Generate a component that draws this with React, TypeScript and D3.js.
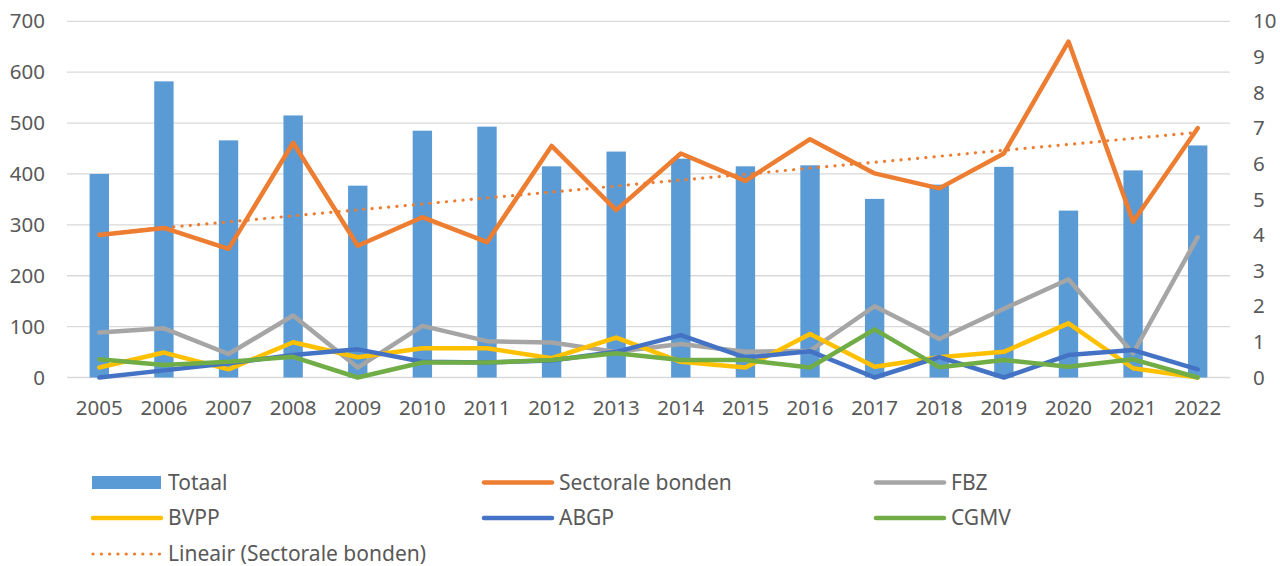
import { useMemo } from "react";
import * as d3 from "d3";

const WIDTH = 1280;
const HEIGHT = 566;
const PLOT = { left: 67, right: 1230, top: 21.3, bottom: 377.5 };
const FONT = "'Noto Sans', 'Open Sans', sans-serif";
const TEXT_COLOR = "#595959";
const AXIS_FONT = 20.5;
const LEGEND_FONT = 21;

const years = [
  "2005", "2006", "2007", "2008", "2009", "2010", "2011", "2012", "2013",
  "2014", "2015", "2016", "2017", "2018", "2019", "2020", "2021", "2022",
];

// left axis
const totaal = [400, 582, 466, 515, 377, 485, 493, 415, 444, 430, 415, 417, 351, 379, 414, 328, 407, 456];

// right axis
const sectoraleBonden = [4.0, 4.2, 3.61, 6.59, 3.7, 4.5, 3.8, 6.5, 4.7, 6.29, 5.52, 6.69, 5.73, 5.31, 6.29, 9.43, 4.37, 7.0];
const fbz = [1.26, 1.38, 0.66, 1.74, 0.28, 1.45, 1.02, 0.98, 0.72, 0.94, 0.72, 0.75, 2.0, 1.08, 1.93, 2.76, 0.68, 3.94];
const bvpp = [0.28, 0.7, 0.23, 0.99, 0.57, 0.82, 0.82, 0.54, 1.12, 0.44, 0.28, 1.22, 0.3, 0.57, 0.72, 1.52, 0.26, 0.0];
const abgp = [0.0, 0.2, 0.4, 0.63, 0.79, 0.44, 0.42, 0.48, 0.72, 1.19, 0.56, 0.74, 0.0, 0.57, 0.0, 0.63, 0.77, 0.23];
const cgmv = [0.51, 0.35, 0.44, 0.58, 0.0, 0.42, 0.42, 0.49, 0.68, 0.49, 0.49, 0.28, 1.35, 0.29, 0.49, 0.3, 0.51, 0.0];

const leftTicks = [0, 100, 200, 300, 400, 500, 600, 700];
const rightTicks = [0, 1, 2, 3, 4, 5, 6, 7, 8, 9, 10];

const lineSeries = [
  { name: "Sectorale bonden", values: sectoraleBonden, color: "#ED7D31" },
  { name: "FBZ", values: fbz, color: "#A5A5A5" },
  { name: "BVPP", values: bvpp, color: "#FFC000" },
  { name: "ABGP", values: abgp, color: "#4472C4" },
  { name: "CGMV", values: cgmv, color: "#70AD47" },
];

export default function App() {
  const xScale = useMemo(
    () => d3.scaleBand<string>().domain(years).range([PLOT.left, PLOT.right]).padding(0),
    []
  );
  const yLeft = useMemo(
    () => d3.scaleLinear().domain([0, 700]).range([PLOT.bottom, PLOT.top]),
    []
  );
  const yRight = useMemo(
    () => d3.scaleLinear().domain([0, 10]).range([PLOT.bottom, PLOT.top]),
    []
  );

  const cx = (y: string) => xScale(y)! + xScale.bandwidth() / 2;
  const barWidth = xScale.bandwidth() * 0.3;

  const lineGen = d3
    .line<number>()
    .x((_, i) => cx(years[i]))
    .y((d) => yRight(d));

  // linear trendline (least squares) of Sectorale bonden
  const trend = useMemo(() => {
    const n = sectoraleBonden.length;
    const xs = d3.range(n);
    const mx = d3.mean(xs)!;
    const my = d3.mean(sectoraleBonden)!;
    const slope =
      d3.sum(xs, (x, i) => (x - mx) * (sectoraleBonden[i] - my)) /
      d3.sum(xs, (x) => (x - mx) ** 2);
    const icpt = my - slope * mx;
    return xs.map((x) => icpt + slope * x);
  }, []);

  const legendItems = [
    { name: "Totaal", kind: "bar", color: "#5B9BD5" },
    ...lineSeries.map((s) => ({ name: s.name, kind: "line", color: s.color })),
    { name: "Lineair (Sectorale bonden)", kind: "dot", color: "#ED7D31" },
  ];
  const legendCols = [92, 483, 875];
  const legendRows = [482.5, 518, 554];

  return (
    <div style={{ position: "absolute", left: 0, top: 0 }}>
      <svg width={WIDTH} height={HEIGHT} style={{ display: "block", background: "#fff" }}>
        {/* gridlines */}
        {leftTicks.map((t) => (
          <line
            key={t}
            x1={PLOT.left}
            x2={PLOT.right}
            y1={yLeft(t)}
            y2={yLeft(t)}
            stroke="#D9D9D9"
            strokeWidth={1.3}
          />
        ))}

        {/* left axis labels */}
        {leftTicks.map((t) => (
          <text
            key={t}
            x={45}
            y={yLeft(t)}
            dy="0.35em"
            textAnchor="end"
            fontFamily={FONT}
            fontSize={AXIS_FONT}
            fill={TEXT_COLOR}
          >
            {t}
          </text>
        ))}

        {/* right axis labels */}
        {rightTicks.map((t) => (
          <text
            key={t}
            x={1253}
            y={yRight(t)}
            dy="0.35em"
            textAnchor="start"
            fontFamily={FONT}
            fontSize={AXIS_FONT}
            fill={TEXT_COLOR}
          >
            {t}
          </text>
        ))}

        {/* x labels */}
        {years.map((y) => (
          <text
            key={y}
            x={cx(y)}
            y={415}
            textAnchor="middle"
            fontFamily={FONT}
            fontSize={AXIS_FONT}
            fill={TEXT_COLOR}
          >
            {y}
          </text>
        ))}

        {/* bars */}
        {totaal.map((v, i) => (
          <rect
            key={years[i]}
            x={cx(years[i]) - barWidth / 2}
            width={barWidth}
            y={yLeft(v)}
            height={yLeft(0) - yLeft(v)}
            fill="#5B9BD5"
          />
        ))}

        {/* lines */}
        {lineSeries.map((s) => (
          <path
            key={s.name}
            d={lineGen(s.values)!}
            fill="none"
            stroke={s.color}
            strokeWidth={4.5}
            strokeLinejoin="round"
            strokeLinecap="round"
          />
        ))}

        {/* trendline */}
        <path
          d={lineGen(trend)!}
          fill="none"
          stroke="#ED7D31"
          strokeWidth={3.2}
          strokeLinecap="round"
          strokeDasharray="0.1 8.2"
        />

        {/* legend */}
        {legendItems.map((item, i) => {
          const x = legendCols[i % 3];
          const y = legendRows[Math.floor(i / 3)];
          return (
            <g key={item.name}>
              {item.kind === "bar" && (
                <rect x={x} y={y - 6.5} width={69} height={13} fill={item.color} />
              )}
              {item.kind === "line" && (
                <line
                  x1={x + 1}
                  x2={x + 69}
                  y1={y}
                  y2={y}
                  stroke={item.color}
                  strokeWidth={4.5}
                  strokeLinecap="round"
                />
              )}
              {item.kind === "dot" && (
                <line
                  x1={x + 1}
                  x2={x + 70}
                  y1={y}
                  y2={y}
                  stroke={item.color}
                  strokeWidth={3.2}
                  strokeLinecap="round"
                  strokeDasharray="0.1 8.2"
                />
              )}
              <text
                x={x + 76}
                y={y}
                dy="0.35em"
                fontFamily={FONT}
                fontSize={LEGEND_FONT}
                fill={TEXT_COLOR}
              >
                {item.name}
              </text>
            </g>
          );
        })}
      </svg>
    </div>
  );
}
